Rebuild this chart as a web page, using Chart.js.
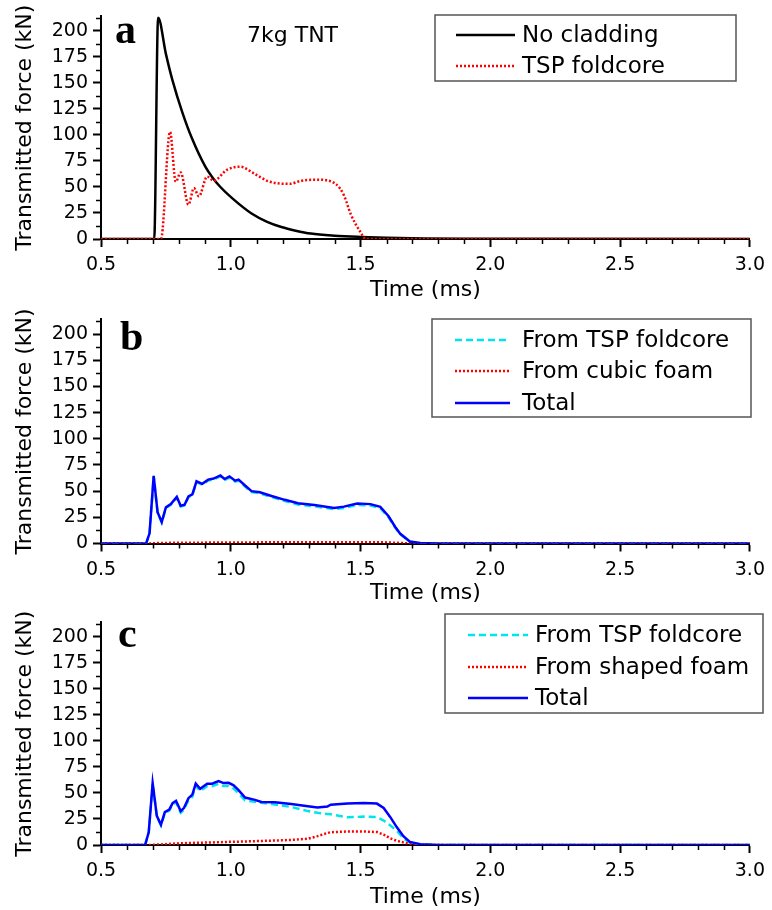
<!DOCTYPE html>
<html>
<head>
<meta charset="utf-8">
<title>Transmitted force</title>
<script src="https://cdn.jsdelivr.net/npm/chart.js@4.4.1/dist/chart.umd.min.js"></script>
<style>
  body { margin: 0; background: #fff; }
  #wrap { position: relative; width: 772px; height: 910px; }
  canvas { position: absolute; left: 0; }
</style>
</head>
<body>
<div id="wrap">
  <canvas id="panelA" width="772" height="303" style="top:0"></canvas>
  <canvas id="panelB" width="772" height="303" style="top:303px"></canvas>
  <canvas id="panelC" width="772" height="304" style="top:606px"></canvas>
</div>
<script>
// ---- data (time in ms, force in kN) ----

// panel a: no cladding vs TSP foldcore
const tNoCladding = [0.5, 0.705, 0.72, 0.75, 0.776, 0.813, 0.85, 0.903, 0.93, 0.96,
  1.004, 1.08, 1.14, 1.195, 1.25, 1.309, 1.4, 1.5, 1.6, 1.75, 1.9, 3.0];
const fNoCladding = [0, 0, 213, 178, 152, 122, 97, 69, 59, 50,
  39.5, 24.5, 16.5, 11.5, 8, 5.2, 3.2, 2, 1.2, 0.5, 0.15, 0];

const tFoldcoreA = [0.5, 0.731, 0.766, 0.788, 0.807, 0.837, 0.858, 0.877, 0.909, 0.934, 0.985,
  1.036, 1.093, 1.145, 1.227, 1.271, 1.335, 1.404, 1.436, 1.462, 1.5, 1.52, 3.0];
const fFoldcoreA = [0, 0, 103, 55, 64, 33, 49, 41, 60, 56, 66.5,
  69.5, 62.5, 55.5, 53, 56, 57, 53, 42, 24, 6.5, 0, 0];

// panel b: TSP foldcore + cubic foam
const tB = [0.5, 0.674, 0.687, 0.703, 0.718, 0.734, 0.75, 0.769, 0.792, 0.807, 0.822, 0.837, 0.852, 0.868,
  0.89, 0.913, 0.934, 0.96, 0.976, 0.995, 1.017, 1.03, 1.055, 1.08, 1.112, 1.157, 1.208, 1.259, 1.322,
  1.398, 1.436, 1.487, 1.538, 1.576, 1.608, 1.633, 1.652, 1.69, 1.73, 1.8, 3.0];
const bFoldcore = [0, 0, 9.6, 64.2, 29.4, 20, 34, 37, 43.9, 35.3, 36.3, 44.3, 46.2, 58.6,
  56.2, 60.1, 61.1, 64.1, 60.6, 63, 59, 60, 54.4, 49, 47.9, 44.3, 40.6, 37.3, 35.5,
  32.7, 33.9, 36.9, 36.3, 33.8, 25, 15.3, 9, 1.7, 0.4, 0, 0];
const bCubicFoam = [0, 0, 0.1, 0.3, 0.4, 0.5, 0.5, 0.6, 0.6, 0.7, 0.7, 0.7, 0.8, 0.8,
  0.8, 0.9, 0.9, 0.9, 1, 1, 1, 1, 1, 1, 1.1, 1.1, 1.1, 1.2, 1.2,
  1.3, 1.3, 1.3, 1.3, 1.2, 1, 0.7, 0.5, 0.2, 0.1, 0, 0];
const bTotal = [0, 0, 9.7, 64.5, 29.8, 20.5, 34.5, 37.6, 44.5, 36, 37, 45, 47, 59.4,
  57, 61, 62, 65, 61.6, 64, 60, 61, 55.4, 50, 49, 45.4, 41.7, 38.5, 36.7,
  34, 35.2, 38.2, 37.6, 35, 26, 16, 9.5, 1.9, 0.5, 0, 0];

// panel c: TSP foldcore + shaped foam
const tC = [0.5, 0.67, 0.684, 0.699, 0.715, 0.731, 0.746, 0.763, 0.776, 0.789, 0.807, 0.82, 0.837, 0.852,
  0.865, 0.882, 0.909, 0.928, 0.953, 0.972, 0.992, 1.011, 1.03, 1.055, 1.093, 1.118, 1.17, 1.233,
  1.297, 1.334, 1.372, 1.385, 1.449, 1.513, 1.563, 1.589, 1.614, 1.64, 1.665, 1.69, 1.73, 1.8, 3.0];
const cFoldcore = [0, 0, 12.4, 59.3, 27.6, 18.9, 30.8, 33, 39.1, 41.1, 31, 34, 43.1, 46.4,
  56.9, 51.8, 56.6, 56.5, 58.8, 56.7, 56.8, 54.3, 49.5, 43, 41.5, 40.5, 39, 36.5,
  32.6, 31, 29.8, 29.5, 26.6, 27.3, 26.8, 23.5, 19, 13.5, 6.5, 2.2, 0.6, 0, 0];
const cShapedFoam = [0, 0, 0, 0.2, 0.4, 0.6, 0.8, 1, 1.2, 1.4, 1.6, 1.7, 1.9, 2,
  2.1, 2.2, 2.4, 2.5, 2.6, 2.8, 3, 3.1, 3.2, 3.4, 3.7, 3.9, 4.3, 4.9,
  6, 8.5, 11.5, 12.3, 13, 13, 12.4, 10, 6.5, 4, 2.5, 0.8, 0.2, 0, 0];
const cTotal = [0, 0, 12.4, 59.5, 28, 19.5, 31.6, 34, 40.3, 42.5, 32.6, 35.7, 45, 48.4,
  59, 54, 59, 59, 61.4, 59.5, 59.8, 57.4, 52.7, 45.6, 43.4, 41.3, 41, 39.4,
  37.2, 36, 37, 38.8, 39.8, 40.3, 39.8, 35.6, 27, 17, 8.5, 3, 0.8, 0, 0];

// axis ranges and ticks
const xMin = 0.5, xMax = 3.0, xMajor = 0.5, xMinor = 0.1;
const yMin = 0, yMax = 214, yMajor = 25, yMinor = 12.5;

const FONT = '"DejaVu Sans", "Liberation Sans", Arial, sans-serif';
const pts = (t, f) => t.map((x, i) => ({ x, y: f[i] }));

// small outward ticks between the labelled ones
const minorTicks = {
  id: 'minorTicks',
  afterDraw(chart) {
    const { ctx } = chart;
    const xs = chart.scales.x;
    const ys = chart.scales.y;
    ctx.save();
    ctx.strokeStyle = '#000';
    ctx.lineWidth = 1.5;
    ctx.beginPath();
    const nx = Math.round((xMax - xMin) / xMinor);
    for (let i = 1; i < nx; i++) {
      if (i % 5 === 0) continue;
      const px = Math.round(xs.getPixelForValue(xMin + i * xMinor)) + 0.5;
      ctx.moveTo(px, xs.top);
      ctx.lineTo(px, xs.top + 5);
    }
    for (let v = yMinor; v < yMax; v += yMajor) {
      const py = Math.round(ys.getPixelForValue(v)) + 0.5;
      ctx.moveTo(ys.right, py);
      ctx.lineTo(ys.right - 5, py);
    }
    ctx.stroke();
    ctx.restore();
  },
};

// framed legend in the top right corner
const boxLegend = {
  id: 'boxLegend',
  afterDraw(chart, args, o) {
    const { ctx } = chart;
    ctx.save();
    ctx.strokeStyle = '#555';
    ctx.lineWidth = 1.5;
    ctx.strokeRect(o.x, o.y, o.w, o.h);
    ctx.font = `23px ${FONT}`;
    ctx.textBaseline = 'middle';
    ctx.fillStyle = '#000';
    chart.data.datasets.forEach((ds, i) => {
      const y = o.rows[i];
      ctx.beginPath();
      ctx.strokeStyle = ds.borderColor;
      ctx.lineWidth = ds.borderWidth;
      ctx.setLineDash(ds.borderDash || []);
      ctx.moveTo(o.x1, y);
      ctx.lineTo(o.x2, y);
      ctx.stroke();
      ctx.setLineDash([]);
      ctx.fillText(ds.label, o.textX, y + 1);
    });
    ctx.restore();
  },
};

// panel letter and note
const panelText = {
  id: 'panelText',
  afterDraw(chart, args, o) {
    const { ctx } = chart;
    ctx.save();
    ctx.fillStyle = '#000';
    ctx.font = 'bold 42px "Liberation Serif", "Times New Roman", serif';
    ctx.fillText(o.letter, o.letterX, o.letterY);
    if (o.note) {
      ctx.font = `22px ${FONT}`;
      ctx.textBaseline = 'middle';
      ctx.fillText(o.note, o.noteX, o.noteY);
    }
    ctx.restore();
  },
};

function line(label, data, color, width, dash, order, smooth) {
  return {
    label,
    data,
    borderColor: color,
    borderWidth: width,
    borderDash: dash,
    order,
    fill: false,
    pointRadius: 0,
    tension: 0,
    cubicInterpolationMode: smooth ? 'monotone' : 'default',
  };
}

function makePanel(id, datasets, lay) {
  const axisFont = { family: FONT, size: 19 };
  const titleFont = { family: FONT, size: 22 };
  return new Chart(document.getElementById(id), {
    type: 'line',
    data: { datasets },
    options: {
      responsive: false,
      animation: false,
      devicePixelRatio: 1,
      layout: { padding: { top: lay.top, right: 15, left: 0, bottom: 0 } },
      plugins: {
        legend: { display: false },
        tooltip: { enabled: false },
        boxLegend: lay.legend,
        panelText: lay.text,
      },
      scales: {
        x: {
          type: 'linear',
          min: xMin,
          max: xMax,
          afterFit(s) { s.height = lay.xh; },
          ticks: {
            stepSize: xMajor,
            autoSkip: false,
            maxRotation: 0,
            padding: 7,
            color: '#000',
            font: axisFont,
            callback: (v) => v.toFixed(1),
          },
          grid: { drawOnChartArea: false, tickLength: 8, tickWidth: 2, tickColor: '#000' },
          border: { color: '#000', width: 2 },
          title: { display: true, text: 'Time (ms)', color: '#000', font: titleFont, padding: { top: 0, bottom: 0 } },
        },
        y: {
          min: yMin,
          max: yMax,
          afterFit(s) { s.width = 101; },
          ticks: {
            stepSize: yMajor,
            includeBounds: false,
            padding: 5,
            color: '#000',
            font: axisFont,
          },
          grid: { drawOnChartArea: false, tickLength: 8, tickWidth: 2, tickColor: '#000' },
          border: { color: '#000', width: 2 },
          title: { display: true, text: 'Transmitted force (kN)', color: '#000', font: titleFont, padding: { top: 12, bottom: 0 } },
        },
      },
    },
    plugins: [minorTicks, boxLegend, panelText],
  });
}

const RED = '#ff0000';
const CYAN = '#00e4f0';
const BLUE = '#0000ff';

makePanel('panelA', [
  line('No cladding', pts(tNoCladding, fNoCladding), '#000000', 2.5, [], 1, true),
  line('TSP foldcore', pts(tFoldcoreA, fFoldcoreA), RED, 2.5, [2, 2], 0, true),
], {
  top: 9, xh: 64,
  legend: { x: 435, y: 15, w: 301, h: 66, rows: [35, 66], x1: 456, x2: 515, textX: 522 },
  text: { letter: 'a', letterX: 115, letterY: 43, note: '7kg TNT', noteX: 247, noteY: 36 },
});

makePanel('panelB', [
  line('From TSP foldcore', pts(tB, bFoldcore), CYAN, 2.5, [7, 4], 2, false),
  line('From cubic foam', pts(tB, bCubicFoam), RED, 2.5, [2, 2], 1, false),
  line('Total', pts(tB, bTotal), BLUE, 2.5, [], 0, false),
], {
  top: 12, xh: 62.5,
  legend: { x: 432, y: 16, w: 319, h: 98, rows: [37, 68, 100], x1: 455, x2: 510, textX: 522 },
  text: { letter: 'b', letterX: 120, letterY: 47 },
});

makePanel('panelC', [
  line('From TSP foldcore', pts(tC, cFoldcore), CYAN, 2.5, [7, 4], 2, false),
  line('From shaped foam', pts(tC, cShapedFoam), RED, 2.5, [2, 2], 1, false),
  line('Total', pts(tC, cTotal), BLUE, 2.5, [], 0, false),
], {
  top: 9, xh: 65,
  legend: { x: 445, y: 8, w: 318, h: 99, rows: [29, 61, 92], x1: 468, x2: 528, textX: 535 },
  text: { letter: 'c', letterX: 118, letterY: 41 },
});
</script>
</body>
</html>
